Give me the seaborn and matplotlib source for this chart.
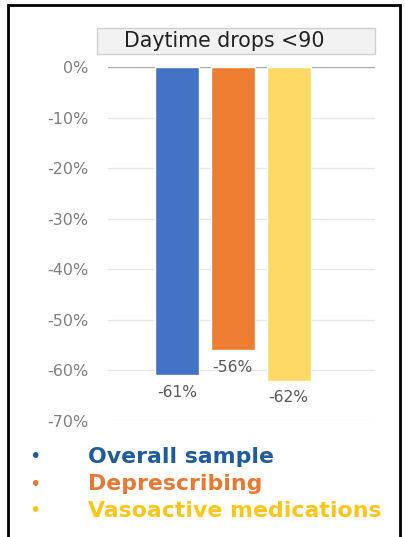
import matplotlib
matplotlib.use("Agg")
import matplotlib.pyplot as plt
from matplotlib.patches import Rectangle
import seaborn as sns
import pandas as pd

# Data
groups = ["Overall sample", "Deprescribing", "Vasoactive medications"]
drops = [-0.61, -0.56, -0.62]
bar_colors = ["#4472C4", "#ED7D31", "#FFD966"]
legend_colors = ["#1F5C99", "#E67A35", "#FFC519"]
y_ticks = [0.0, -0.1, -0.2, -0.3, -0.4, -0.5, -0.6, -0.7]
title = "Daytime drops <90"

sns.set_theme(style="white")
plt.rcParams["font.family"] = ["DejaVu Sans"]

df = pd.DataFrame({"group": groups, "drop": drops})

W, H = 405, 537
fig = plt.figure(figsize=(W / 100, H / 100), dpi=100)
ax = fig.add_axes([108 / W, 1 - 421 / H, (375 - 108) / W, (421 - 67) / H])

sns.barplot(data=df, x="group", y="drop", hue="group", palette=bar_colors,
            order=groups, hue_order=groups, legend=False, width=0.79,
            saturation=1, ax=ax)

ax.set_xlim(-1.24, 3.55)
ax.set_ylim(-0.70, 0.0)
ax.set_yticks(y_ticks)
ax.set_yticklabels([f"{round(v * 100)}%" for v in y_ticks])
ax.tick_params(axis="y", length=0, pad=14, labelsize=11.5, labelcolor="#7F7F7F")
ax.set_xticks([])
ax.set_xlabel("")
ax.set_ylabel("")
for s in ax.spines.values():
    s.set_visible(False)
for v in y_ticks:
    ax.axhline(v, color="#A6A6A6" if v == 0 else "#E6E6E6",
               lw=1.6 if v == 0 else 0.9, zorder=0)

# Value labels under each bar
for i, v in enumerate(drops):
    ax.annotate(f"{round(v * 100)}%", xy=(i, v), xytext=(0, -7),
                textcoords="offset points", ha="center", va="top",
                fontsize=11.2, color="#595959")

# Title box
fig.patches.append(Rectangle((97 / W, 1 - 54 / H), (375 - 97) / W, 26 / H,
                             transform=fig.transFigure, facecolor="#F2F2F2",
                             edgecolor="#D0D0D0", lw=1.0))
fig.text(224 / W, 1 - 41 / H, title, ha="center", va="center",
         fontsize=14.8, color="#222222")

# Bulleted group list
for k, (name, c) in enumerate(zip(groups, legend_colors)):
    y = 1 - (457 + 27 * k) / H
    fig.text(35 / W, y, "•", ha="center", va="center", fontsize=14, color=c)
    fig.text(88 / W, y, name, ha="left", va="center", fontsize=15.8,
             fontweight="bold", color=c)

# Outer frame
fig.patches.append(Rectangle((8 / W, -0.05), (400 - 8) / W, 1 - 5 / H + 0.05,
                             transform=fig.transFigure, facecolor="none",
                             edgecolor="black", lw=2.0))

fig.savefig("out.png", dpi=100)
